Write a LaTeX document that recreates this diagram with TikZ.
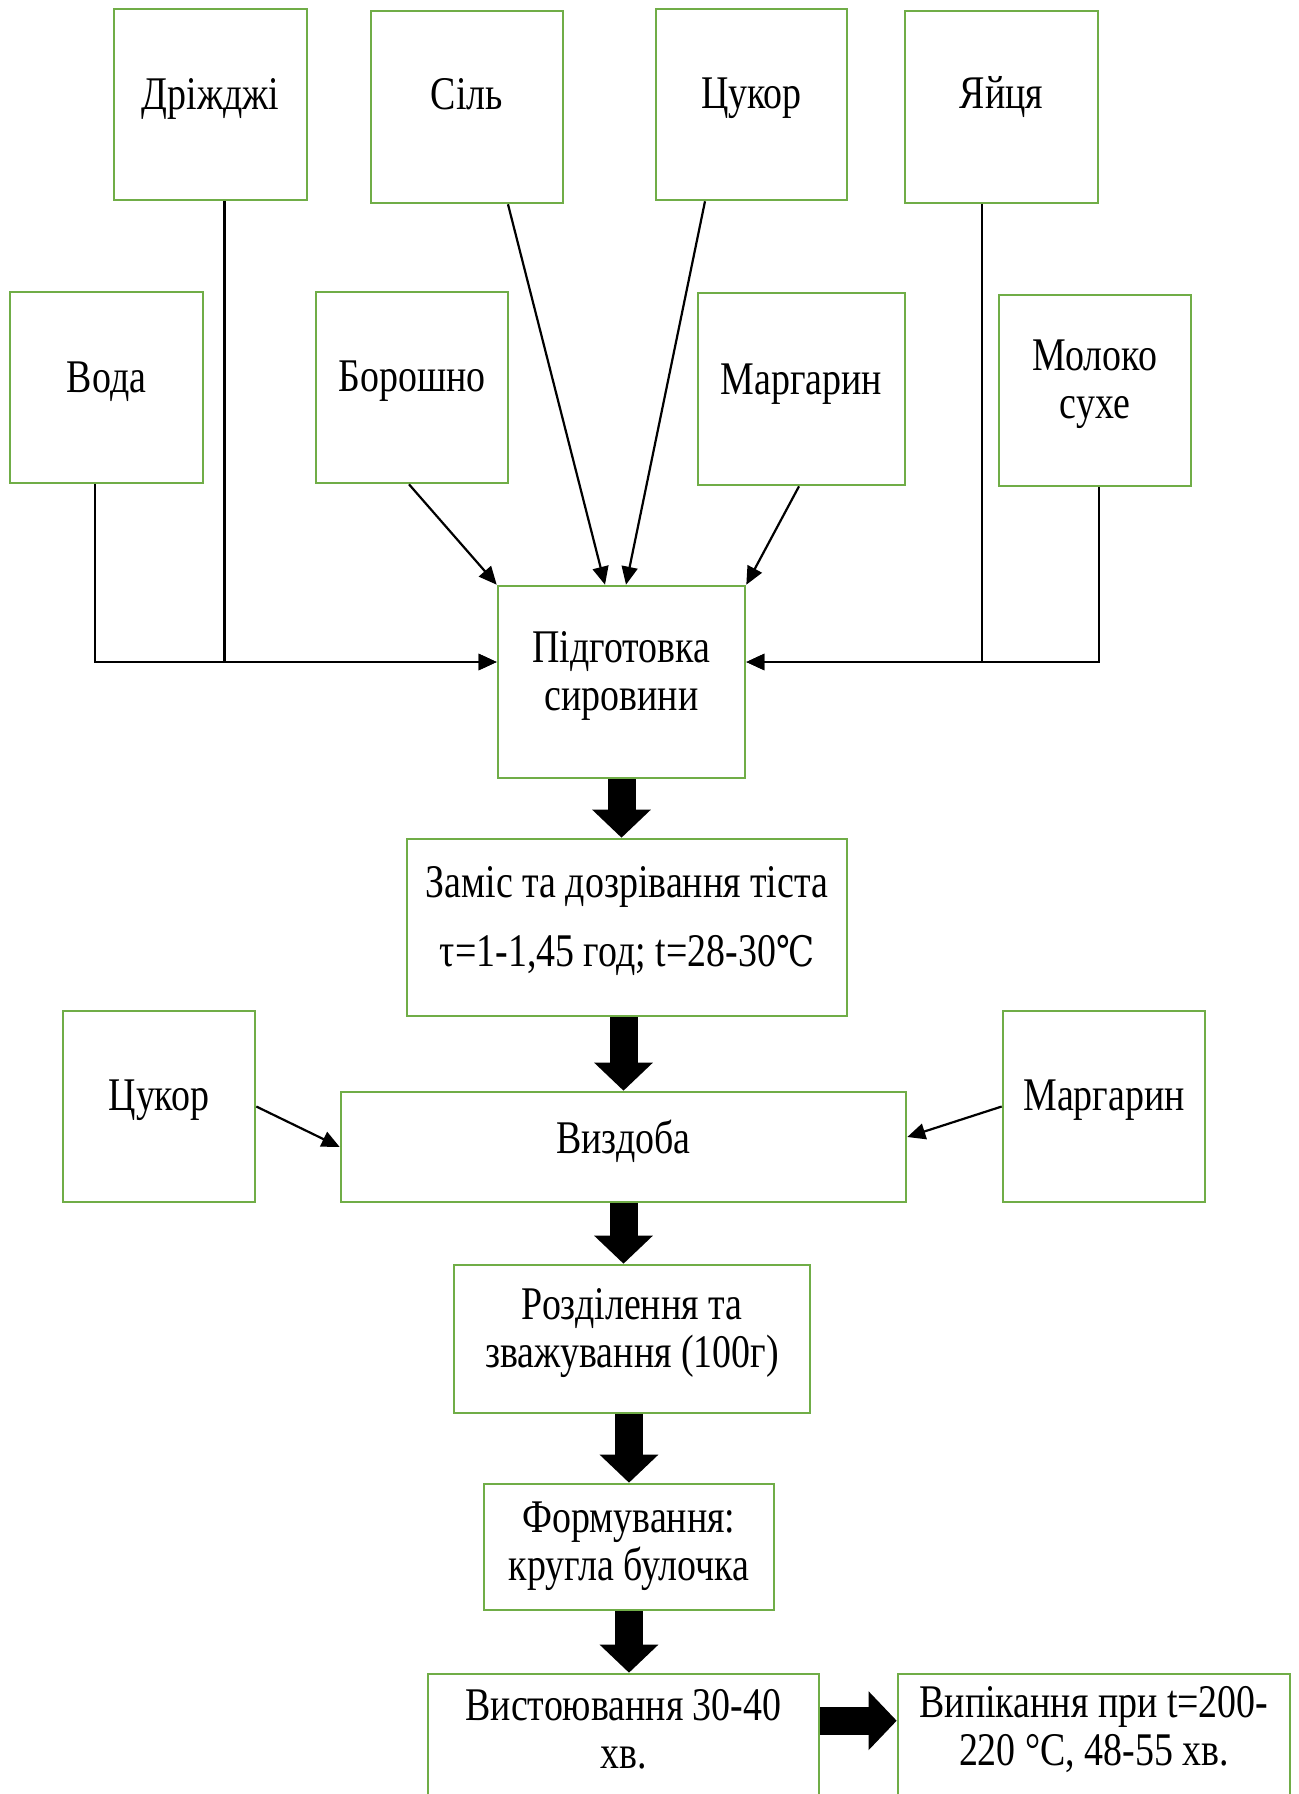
\documentclass[tikz,border=0pt]{standalone}
\usepackage{fontspec}
\setmainfont{Liberation Serif}[FakeStretch=0.81]
\newfontfamily\symfont{DejaVu Serif}[FakeStretch=0.81]
\usetikzlibrary{arrows.meta,calc,positioning}
\definecolor{boxgreen}{RGB}{112,173,71}
\newcommand{\degC}{{\symfont\fontsize{21}{24}\selectfont ℃}}
\tikzset{every picture/.style={line width=1pt}}
\tikzset{
  box/.style={draw=boxgreen, line width=1.3pt, inner sep=0pt},
  lbl/.style={font=\fontsize{23.4}{24}\selectfont, align=center, inner sep=0pt},
  conn/.style={draw=black, line width=1.1pt, -{Triangle[length=9pt,width=8pt]}},
  bigarrow/.style={draw=black, line width=14pt, -{Triangle[length=14pt,width=28.5pt]}}
}

\begin{document}
\begin{tikzpicture}[x=0.5pt,y=0.5pt,yscale=-1,xscale=1]
\useasboundingbox (0,0) rectangle (1299,1794);
\clip (0,0) rectangle (1299,1794);

% ingredients, upper row
\node[box, minimum width=96.5pt, minimum height=95.5pt] (drizhdzhi) at (210.5,104.5) {};
\node[box, minimum width=96pt, minimum height=96pt] (sil) at (467,107) {};
\node[box, minimum width=95.5pt, minimum height=95.5pt] (tsukorA) at (751.5,104.5) {};
\node[box, minimum width=96.5pt, minimum height=96pt] (yaytsia) at (1001.5,107) {};
% ingredients, lower row
\node[box, minimum width=96.5pt, minimum height=95.5pt] (voda) at (106.5,387.5) {};
\node[box, minimum width=96pt, minimum height=95.5pt] (boroshno) at (412,387.5) {};
\node[box, minimum width=103.5pt, minimum height=96pt] (margarynA) at (801.5,389) {};
\node[box, minimum width=96pt, minimum height=95.5pt] (moloko) at (1095,390.5) {};

% process steps
\node[box, minimum width=123.5pt, minimum height=96pt] (pidhotovka) at (621.5,682) {};
\node[box, minimum width=220pt, minimum height=88.5pt] (zamis) at (627,927.5) {};
\node[box, minimum width=96pt, minimum height=95.5pt] (tsukorB) at (159,1106.5) {};
\node[box, minimum width=282.5pt, minimum height=55pt] (vyzdoba) at (623.5,1147) {};
\node[box, minimum width=101pt, minimum height=95.5pt] (margarynB) at (1104,1106.5) {};
\node[box, minimum width=178pt, minimum height=74pt] (rozdil) at (632,1339) {};
\node[box, minimum width=145pt, minimum height=63pt] (formuv) at (629,1547) {};
\node[box, minimum width=195.5pt, minimum height=115pt] (vystoyuv) at (623.5,1789) {};
\node[box, minimum width=196pt, minimum height=115pt] (vypikannia) at (1094,1789) {};

% texts
\node[lbl] (drizhdzhiT) at ($(drizhdzhi.center)+(0,-6)$) {Дріжджі};
\node[lbl] (silT) at ($(sil.center)+(0,-13)$) {Сіль};
\node[lbl] (tsukorAT) at ($(tsukorA.center)+(0,-6)$) {Цукор};
\node[lbl] (yaytsiaT) at ($(yaytsia.center)+(0,-10)$) {Яйця};
\node[lbl] (vodaT) at ($(voda.center)+(0,-6)$) {Вода};
\node[lbl] (boroshnoT) at ($(boroshno.center)+(0,-6)$) {Борошно};
\node[lbl] (margarynAT) at ($(margarynA.center)+(0,-5)$) {Маргарин};
\node[lbl] (molokoT) at ($(moloko.center)+(0,-6)$) {Молоко\\сухе};
\node[lbl] (pidhotovkaT) at ($(pidhotovka.center)+(0,-6)$) {Підготовка\\сировини};
\node[lbl] (zamisT) at ($(zamis.center)+(0,-6)$) {Заміс та дозрівання тіста\\[10.5pt]τ=1-1,45 год; t=28-30\degC};
\node[lbl] (tsukorBT) at ($(tsukorB.center)+(0,-6)$) {Цукор};
\node[lbl] (vyzdobaT) at ($(vyzdoba.center)+(0,-6)$) {Виздоба};
\node[lbl] (margarynBT) at ($(margarynB.center)+(0,-6)$) {Маргарин};
\node[lbl] (rozdilT) at ($(rozdil.center)+(0,-6)$) {Розділення та\\зважування (100г)};
\node[lbl] (formuvT) at ($(formuv.center)+(0,-1)$) {Формування:\\кругла булочка};
\node[lbl] (vystoyuvT) at ($(vystoyuv.north)+(0,57)$) {Вистоювання 30-40\\хв.};
\node[lbl] (vypikanniaT) at ($(vypikannia.north)+(0,57)$) {Випікання при t=200-\\220 °C, 48-55 хв.};

% inputs to preparation
\coordinate (inL) at ($(pidhotovka.west)+(0,-20)$);
\coordinate (inR) at ($(pidhotovka.east)+(0,-20)$);
\draw[conn] ($(voda.south)+(-11.5,0)$) |- (inL);
\draw[conn] ($(drizhdzhi.south)+(14,0)$) |- (inL);
\draw[conn] ($(moloko.south)+(4,0)$) |- (inR);
\draw[conn] ($(yaytsia.south)+(-19.5,0)$) |- (inR);
\draw[conn] ($(boroshno.south)+(-3,0)$) -- (pidhotovka.north west);
\draw[conn] ($(sil.south)+(41,0)$) -- ($(pidhotovka.north)+(-16.5,0)$);
\draw[conn] ($(tsukorA.south)+(-46.5,0)$) -- ($(pidhotovka.north)+(4.5,0)$);
\draw[conn] ($(margarynA.south)+(-2.5,0)$) -- (pidhotovka.north east);

% additions to vyzdoba
\draw[conn] (tsukorB.east) -- (vyzdoba.west);
\draw[conn] (margarynB.west) -- ($(vyzdoba.east)+(0,-10)$);

% main flow
\draw[bigarrow] (pidhotovka.south) -- (pidhotovka.south |- zamis.north);
\draw[bigarrow] (vyzdoba.north |- zamis.south) -- (vyzdoba.north);
\draw[bigarrow] (vyzdoba.south) -- (vyzdoba.south |- rozdil.north);
\draw[bigarrow] (formuv.north |- rozdil.south) -- (formuv.north);
\draw[bigarrow] (formuv.south) -- (formuv.south |- vystoyuv.north);
\draw[bigarrow] ($(vystoyuv.north east)+(0,48)$) -- ($(vypikannia.north west)+(0,48)$);

\end{tikzpicture}
\end{document}
